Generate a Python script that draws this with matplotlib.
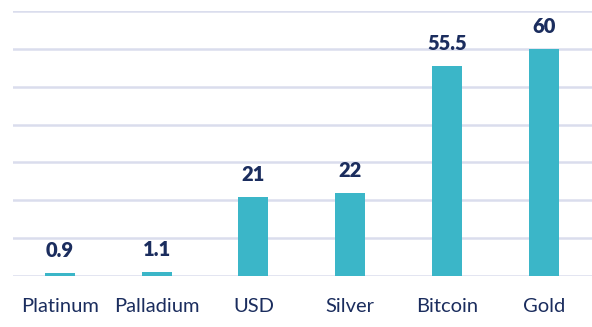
import matplotlib
matplotlib.use("Agg")
import matplotlib.pyplot as plt

categories = ["Platinum", "Palladium", "USD", "Silver", "Bitcoin", "Gold"]
values = [0.9, 1.1, 21, 22, 55.5, 60]
value_labels = ["0.9", "1.1", "21", "22", "55.5", "60"]

bar_color = "#3bb6c8"
grid_color = "#dadded"
text_color = "#1b2d5e"

plt.rcParams["font.family"] = ["Lato", "DejaVu Sans"]

fig = plt.figure(figsize=(5.92, 3.27), dpi=100)
ax = fig.add_axes([13 / 592, 1 - 276 / 327, 579 / 592, 265 / 327])

x = range(len(categories))
ax.bar(x, values, width=0.31, color=bar_color, zorder=3)

for xi, v, lab in zip(x, values, value_labels):
    ax.annotate(lab, (xi, v), xytext=(0, 9), textcoords="offset points",
                ha="center", va="bottom", fontsize=14.5, fontweight="heavy",
                color=text_color)

ax.set_xlim(-0.485, 5.5)
ax.set_ylim(0, 70)
ax.set_yticks(range(0, 71, 10))
ax.yaxis.grid(True, color=grid_color, linewidth=1.8, zorder=0)
ax.set_xticks(list(x))
ax.set_xticklabels(categories, fontsize=14.5, color=text_color)
ax.tick_params(axis="x", length=0, pad=16)
ax.tick_params(axis="y", length=0, labelleft=False)
for s in ax.spines.values():
    s.set_visible(False)

fig.savefig("out.png", dpi=100)
